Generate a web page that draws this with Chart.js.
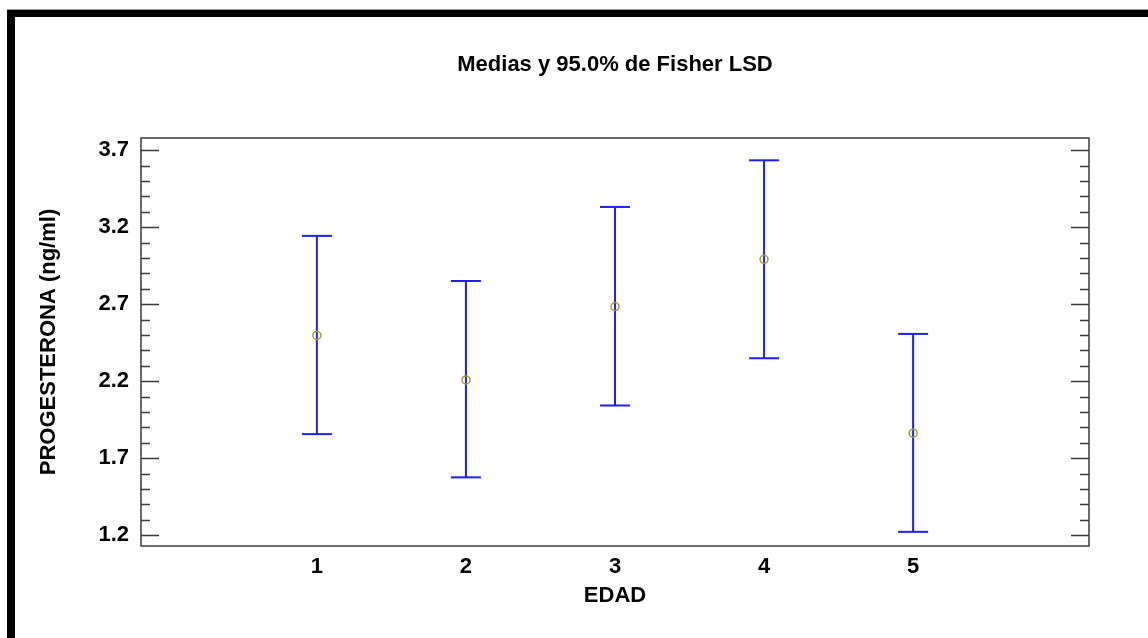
<!DOCTYPE html>
<html>
<head>
<meta charset="utf-8">
<script src="https://cdn.jsdelivr.net/npm/chart.js@4"></script>
<style>
  html, body { margin: 0; padding: 0; background: #fff; overflow: hidden; }
  #frame { position: absolute; left: 7px; top: 10px; width: 1200px; height: 700px;
           border-top: 7px solid #000; border-left: 8px solid #000; }
  #line { position: absolute; left: 7px; top: 9px; width: 1200px; height: 1px; background: #999; }
  canvas { position: absolute; left: 0; top: 0; }
</style>
</head>
<body>
<div id="line"></div>
<div id="frame"></div>
<canvas id="lsdChart" width="1148" height="638"></canvas>
<script>
const categories = ['1', '2', '3', '4', '5'];
const means = [2.497, 2.208, 2.685, 2.992, 1.862];
const lower = [1.856, 1.575, 2.042, 2.349, 1.221];
const upper = [3.144, 2.851, 3.332, 3.635, 2.507];
const yTicks = [1.2, 1.7, 2.2, 2.7, 3.2, 3.7];
const chartTitle = 'Medias y 95.0% de Fisher LSD';

const blue = 'rgb(30,30,255)';
const olive = 'rgb(165,155,50)';
const axisColor = '#3a3a3a';
const fontFamily = 'Arial, "Liberation Sans", sans-serif';

// frame around the plot, inward ticks on left and right, title over the plot
const framePlugin = {
    id: 'frame',
    afterDraw(chart) {
        const ctx = chart.ctx;
        const a = chart.chartArea;
        const y = chart.scales.y;
        ctx.save();
        ctx.strokeStyle = axisColor;
        ctx.lineWidth = 1.5;
        ctx.strokeRect(a.left, a.top, a.right - a.left, a.bottom - a.top);
        for (let i = 0; i <= 25; i++) {
            const v = 1.2 + i * 0.1;
            const py = Math.round(y.getPixelForValue(v)) + 0.5;
            const len = i % 5 === 0 ? 18 : 9;
            ctx.beginPath();
            ctx.moveTo(a.left, py);
            ctx.lineTo(a.left + len, py);
            ctx.moveTo(a.right, py);
            ctx.lineTo(a.right - len, py);
            ctx.stroke();
        }
        ctx.fillStyle = '#000';
        ctx.font = 'bold 22px ' + fontFamily;
        ctx.textAlign = 'center';
        ctx.textBaseline = 'middle';
        ctx.fillText(chartTitle, (a.left + a.right) / 2, 65);
        ctx.restore();
    }
};

const meanData = categories.map((c, i) => ({ x: i + 1, y: means[i] }));
const barSets = categories.map((c, i) => ({
    label: 'LSD ' + c,
    data: [{ x: i + 1, y: lower[i] }, { x: i + 1, y: upper[i] }],
    showLine: true,
    borderColor: blue,
    borderWidth: 2,
    pointStyle: 'line',
    pointRadius: 15,
    pointBorderColor: blue,
    pointBorderWidth: 2,
    order: 1,
}));

const ctx = document.getElementById('lsdChart').getContext('2d');
const chart = new Chart(ctx, {
    type: 'scatter',
    data: {
        datasets: [{
            label: 'Media',
            data: meanData,
            pointStyle: 'circle',
            pointRadius: 4,
            pointBorderWidth: 1.5,
            pointBorderColor: olive,
            pointBackgroundColor: 'rgba(0,0,0,0)',
            order: 0,
        }].concat(barSets),
    },
    options: {
        responsive: false,
        animation: false,
        layout: { padding: { left: 0, right: 59, top: 138, bottom: 0 } },
        plugins: {
            legend: { display: false },
            tooltip: { enabled: false },
            title: { display: false },
        },
        scales: {
            x: {
                type: 'linear',
                min: -0.18,
                max: 6.18,
                grid: { display: false, drawTicks: false },
                border: { display: false },
                afterBuildTicks: scale => { scale.ticks = categories.map((c, i) => ({ value: i + 1 })); },
                afterFit: scale => { scale.height = 92; },
                ticks: {
                    padding: 8,
                    color: '#000',
                    font: { family: fontFamily, size: 22, weight: 'bold' },
                    callback: v => categories[v - 1],
                },
                title: {
                    display: true,
                    text: 'EDAD',
                    color: '#000',
                    font: { family: fontFamily, size: 22, weight: 'bold' },
                    padding: { top: 4, bottom: 29 },
                },
            },
            y: {
                min: 1.129,
                max: 3.78,
                grid: { display: false, drawTicks: false },
                border: { display: false },
                afterBuildTicks: scale => { scale.ticks = yTicks.map(v => ({ value: v })); },
                afterFit: scale => { scale.width = 141; },
                ticks: {
                    padding: 12,
                    color: '#000',
                    font: { family: fontFamily, size: 22, weight: 'bold' },
                    callback: v => v.toFixed(1),
                },
                title: {
                    display: true,
                    text: 'PROGESTERONA (ng/ml)',
                    color: '#000',
                    font: { family: fontFamily, size: 22, weight: 'bold' },
                    padding: { top: 36 },
                },
            },
        },
    },
    plugins: [framePlugin],
});
</script>
</body>
</html>
